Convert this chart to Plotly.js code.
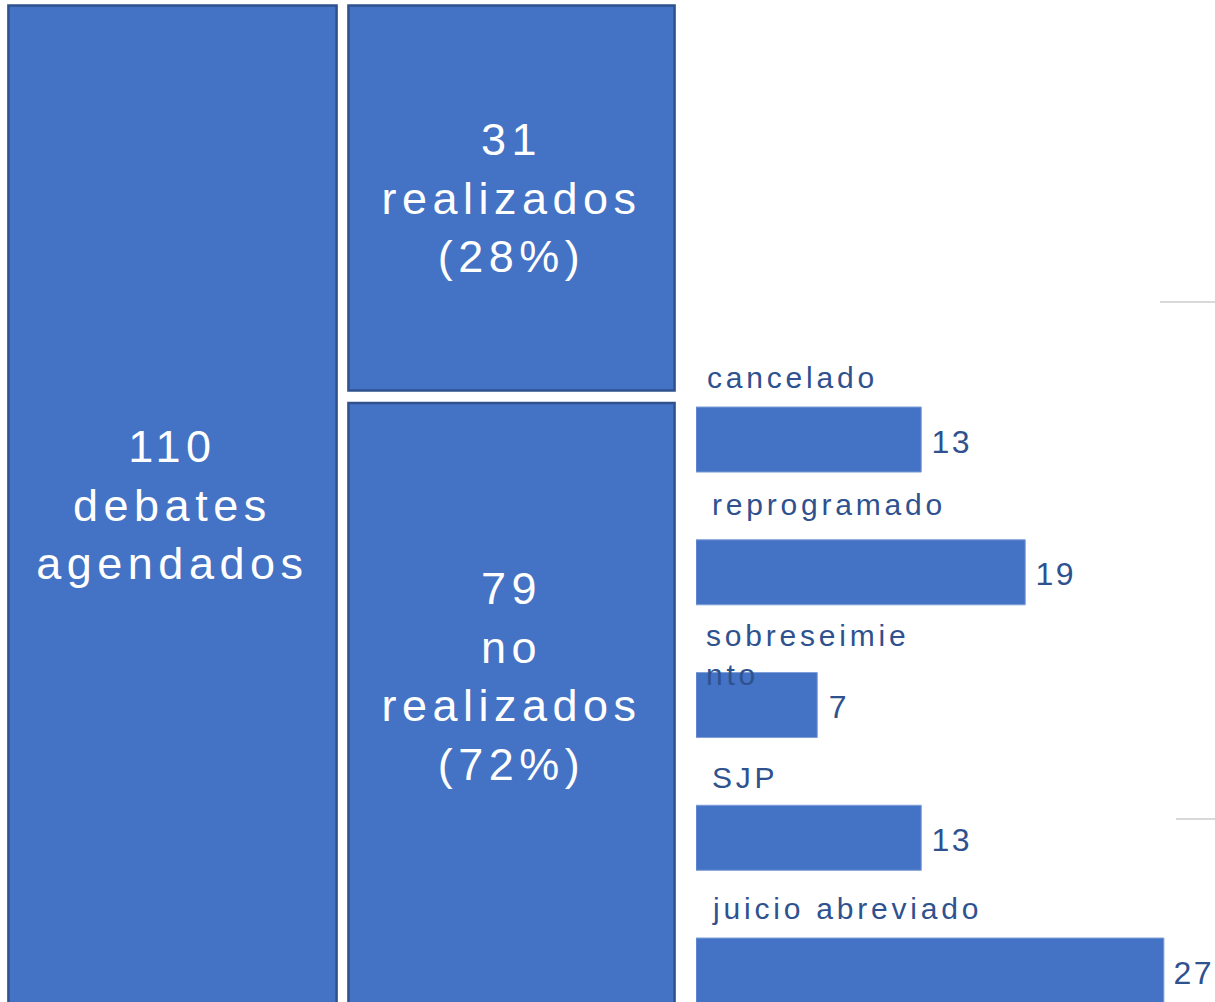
<!DOCTYPE html>
<html>
<head>
<meta charset="utf-8">
<script src="https://cdn.plot.ly/plotly-3.0.1.min.js"></script>
<style>
  html, body { margin: 0; padding: 0; background: #ffffff; }
  #chart { width: 1215px; height: 1002px; }
</style>
</head>
<body>
<div id="chart"></div>
<script>
// ---------------- DATA ----------------
const columnas = ['agendados', 'estado'];
const totalAgendados = 110;
const realizados = 31;
const noRealizados = 79;

const motivos = ['cancelado', 'reprogramado', 'sobreseimiento', 'SJP', 'juicio abreviado'];
const motivosValores = [13, 19, 7, 13, 27];
const motivosEtiquetas = ['cancelado', 'reprogramado', 'sobreseimie<br>nto', 'SJP', 'juicio abreviado'];

// ---------------- STYLE ----------------
const FILL = '#4472C4';
const BORDER = '#2F528F';
const LABEL = '#2F528F';
const FONT = '"Liberation Sans", Arial, sans-serif';
const GAP = 1.0;                 // vertical gap between stacked blocks (axis units)
const labelDx = [10, 15, 9, 15, 15];
const labelGap = [20, 26, 27, 18, 20];
const CAT_SIZE = 30;

const pct = v => Math.round(100 * v / totalAgendados) + '%';

const traces = [
  { type: 'bar', x: [columnas[0]], y: [totalAgendados], base: [0], width: 0.968,
    xaxis: 'x', yaxis: 'y', marker: { color: FILL, line: { color: BORDER, width: 2.5 } },
    hoverinfo: 'skip', showlegend: false },
  { type: 'bar', x: [columnas[1]], y: [realizados], base: [0], width: 0.962,
    xaxis: 'x', yaxis: 'y', marker: { color: FILL, line: { color: BORDER, width: 2.5 } },
    hoverinfo: 'skip', showlegend: false },
  { type: 'bar', x: [columnas[1]], y: [noRealizados], base: [realizados + GAP], width: 0.962,
    xaxis: 'x', yaxis: 'y', marker: { color: FILL, line: { color: BORDER, width: 2.5 } },
    hoverinfo: 'skip', showlegend: false },
  { type: 'bar', orientation: 'h', y: motivos, x: motivosValores, width: 0.49,
    xaxis: 'x2', yaxis: 'y2', marker: { color: FILL, line: { color: '#7f9fd8', width: 1 } },
    hoverinfo: 'skip', showlegend: false }
];

const annotations = [];
const spacing = [];

annotations.push({ xref: 'x', yref: 'paper', x: columnas[0], y: 0.496,
  text: totalAgendados + '<br>debates<br>agendados', showarrow: false,
  font: { family: FONT, size: 45, color: '#ffffff' }, xanchor: 'center', yanchor: 'middle', align: 'center' });
spacing.push('5.5px');
annotations.push({ xref: 'x', yref: 'y', x: columnas[1], y: realizados / 2,
  text: realizados + '<br>realizados<br>(' + pct(realizados) + ')', showarrow: false,
  font: { family: FONT, size: 45, color: '#ffffff' }, xanchor: 'center', yanchor: 'middle', align: 'center' });
spacing.push('5.5px');
annotations.push({ xref: 'x', yref: 'paper', x: columnas[1], y: 0.325,
  text: noRealizados + '<br>no<br>realizados<br>(' + pct(noRealizados) + ')', showarrow: false,
  font: { family: FONT, size: 45, color: '#ffffff' }, xanchor: 'center', yanchor: 'middle', align: 'center' });
spacing.push('5.5px');

motivos.forEach((m, i) => {
  annotations.push({ xref: 'x2', yref: 'y2', x: 0, y: m, text: motivosEtiquetas[i],
    showarrow: false, xanchor: 'left', yanchor: 'top', align: 'left',
    xshift: labelDx[i] - 1, yshift: 32.5 + 1 + 0.905 * CAT_SIZE + labelGap[i],
    font: { family: FONT, size: CAT_SIZE, color: LABEL } });
  spacing.push('3.8px');
  annotations.push({ xref: 'x2', yref: 'y2', x: motivosValores[i], y: m, text: String(motivosValores[i]),
    showarrow: false, xanchor: 'left', yanchor: 'middle', xshift: 10.5, yshift: -2,
    font: { family: FONT, size: 32, color: LABEL } });
  spacing.push('2.5px');
});

const layout = {
  width: 1215, height: 1002,
  margin: { l: 0, r: 0, t: 0, b: 0, pad: 0 },
  paper_bgcolor: '#ffffff', plot_bgcolor: 'rgba(0,0,0,0)',
  barmode: 'overlay',
  showlegend: false,
  xaxis: { domain: [0, 0.57], type: 'category', range: [-0.5088, 1.534], visible: false, fixedrange: true },
  yaxis: { domain: [0, 1], range: [80.23, -0.443], visible: false, fixedrange: true },
  xaxis2: { domain: [0.5728, 1], range: [0, 29.95], anchor: 'y2', visible: false, fixedrange: true },
  yaxis2: { domain: [0, 1], type: 'category', range: [4.237, -3.311], anchor: 'x2', visible: false, fixedrange: true },
  annotations: annotations,
  shapes: [
    { type: 'line', xref: 'paper', yref: 'paper', x0: 0.9547, x1: 1, y0: 0.6986, y1: 0.6986,
      line: { color: '#D9D9D9', width: 2 } },
    { type: 'line', xref: 'paper', yref: 'paper', x0: 0.9679, x1: 1, y0: 0.1826, y1: 0.1826,
      line: { color: '#D9D9D9', width: 2 } }
  ]
};

Plotly.newPlot('chart', traces, layout, { displayModeBar: false, staticPlot: true }).then(gd => {
  gd.querySelectorAll('g.annotation').forEach(g => {
    const i = +g.getAttribute('data-index');
    const t = g.querySelector('text.annotation-text');
    if (t && spacing[i]) t.style.letterSpacing = spacing[i];
  });
});
</script>
</body>
</html>
